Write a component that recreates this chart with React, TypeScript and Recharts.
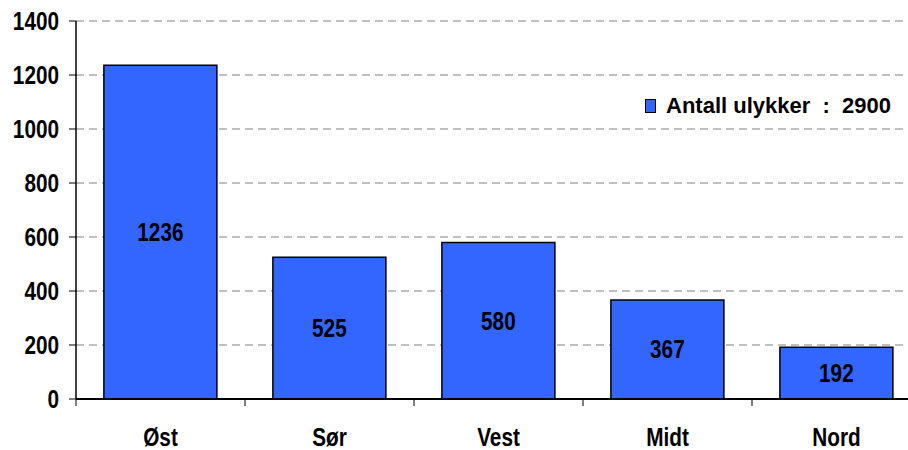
import React from "react";
import { BarChart, Bar, XAxis, YAxis, CartesianGrid, LabelList } from "recharts";

const categories = ["Øst", "Sør", "Vest", "Midt", "Nord"];
const values = [1236, 525, 580, 367, 192];
const yTicks = [0, 200, 400, 600, 800, 1000, 1200, 1400];
const legendLabel = "Antall ulykker  :  2900";

const data = categories.map((c, i) => ({ name: c, value: values[i] }));

const FONT = "'Liberation Sans', Arial, sans-serif";
const SX = 0.83;
const W = 908;
const H = 450;
const LEFT = 76;
const RIGHT = -13;
const BAND = (W - LEFT - RIGHT) / categories.length;

const NarrowText = ({ x, y, anchor, size, children }: any) => (
  <text
    transform={`translate(${x},${y}) scale(${SX},1)`}
    textAnchor={anchor}
    fontFamily={FONT}
    fontWeight="bold"
    fontSize={size}
    fill="#000"
  >
    {children}
  </text>
);

const XTick = (props: any) => {
  const { x, payload } = props;
  const half = BAND / 2;
  const axisY = 399;
  return (
    <g>
      <line x1={x - half} x2={x - half} y1={axisY} y2={axisY + 7} stroke="#000" strokeWidth={1} />
      <NarrowText x={x} y={axisY + 47} anchor="middle" size={25}>
        {payload.value}
      </NarrowText>
    </g>
  );
};

const YTick = (props: any) => {
  const { x, y, payload } = props;
  return (
    <NarrowText x={x - 1} y={y + 9} anchor="end" size={25}>
      {payload.value}
    </NarrowText>
  );
};

const BarLabel = (props: any) => {
  const { x, y, width, height, value } = props;
  return (
    <NarrowText x={x + width / 2} y={y + height / 2 + 9} anchor="middle" size={25}>
      {value}
    </NarrowText>
  );
};

export default function App() {
  return (
    <div style={{ position: "absolute", left: 0, top: 0, width: W, height: H, background: "#fff", overflow: "hidden" }}>
      <BarChart width={W} height={H} data={data} margin={{ top: 21, right: RIGHT, bottom: 0, left: 0 }} barCategoryGap="16.5%">
        <CartesianGrid vertical={false} stroke="#808080" strokeDasharray="8 5" />
        <XAxis dataKey="name" axisLine={{ stroke: "#000", strokeWidth: 2 }} tickLine={false} tick={<XTick />} interval={0} height={51} />
        <YAxis
          width={LEFT}
          domain={[0, 1400]}
          ticks={yTicks}
          interval={0}
          axisLine={{ stroke: "#000", strokeWidth: 1.5 }}
          tickLine={{ stroke: "#000" }}
          tickSize={7}
          tickMargin={9}
          tick={<YTick />}
        />
        <Bar dataKey="value" fill="#3366FF" stroke="#000" strokeWidth={1.5} isAnimationActive={false}>
          <LabelList dataKey="value" content={<BarLabel />} />
        </Bar>
      </BarChart>
      <div
        style={{
          position: "absolute",
          left: 645,
          top: 98,
          display: "flex",
          alignItems: "center",
          fontFamily: FONT,
          fontWeight: "bold",
          fontSize: 22,
          lineHeight: "16px",
          color: "#000",
          whiteSpace: "pre",
        }}
      >
        <div style={{ width: 9, height: 12, background: "#3366FF", border: "1px solid #000", marginRight: 10 }} />
        <span>{legendLabel}</span>
      </div>
    </div>
  );
}
